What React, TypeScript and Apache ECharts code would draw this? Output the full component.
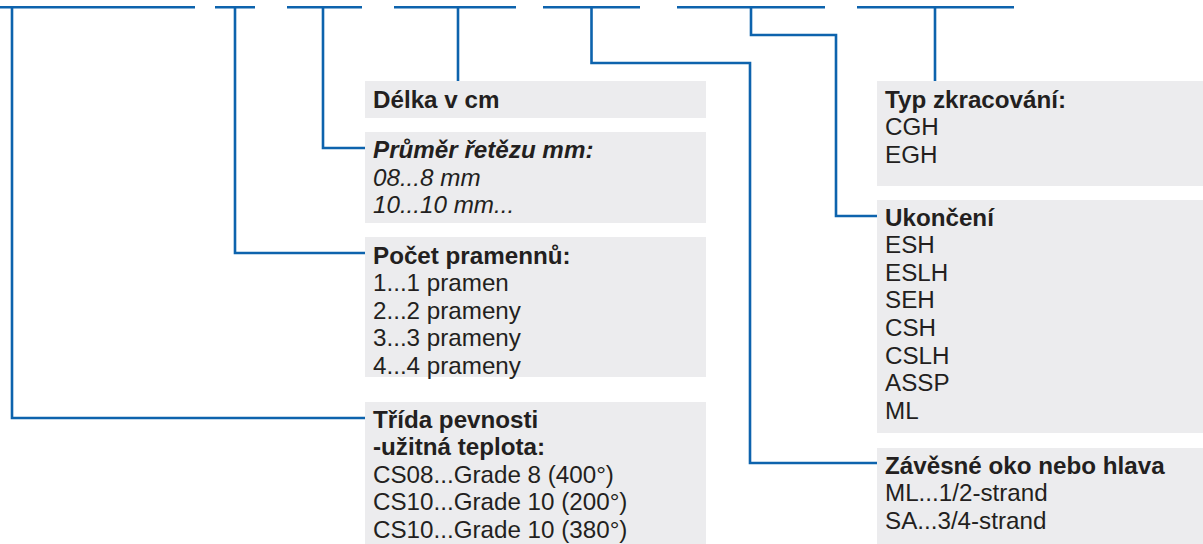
import React, { useEffect, useRef } from 'react';
import * as echarts from 'echarts';

const W = 1203;
const H = 544;
const BLUE = '#0d63ad';
const BOX = '#ececee';
const INK = '#231f20';
const FONT = '"Liberation Sans", Arial, Helvetica, sans-serif';
const FS = 24.2;
const LH = 27.6;

// Box contents
const delkaLines = ['Délka v cm'];
const prumerLines = ['Průměr řetězu mm:', '08...8 mm', '10...10 mm...'];
const pocetLines = ['Počet pramennů:', '1...1 pramen', '2...2 prameny', '3...3 prameny', '4...4 prameny'];
const tridaLines = ['Třída pevnosti', '-užitná teplota:', 'CS08...Grade 8 (400°)', 'CS10...Grade 10 (200°)', 'CS10...Grade 10 (380°)'];
const typLines = ['Typ zkracování:', 'CGH', 'EGH'];
const ukonceniLines = ['Ukončení', 'ESH', 'ESLH', 'SEH', 'CSH', 'CSLH', 'ASSP', 'ML'];
const zavesneLines = ['Závěsné oko nebo hlava', 'ML...1/2-strand', 'SA...3/4-strand'];

// Layout of boxes
const boxes = [
  { lines: delkaLines, x: 365, y: 81, w: 341, h: 37, ty: 99.5, bold: 1, italic: false },
  { lines: prumerLines, x: 365, y: 132, w: 341, h: 91, ty: 149.5, bold: 1, italic: true },
  { lines: pocetLines, x: 365, y: 237, w: 341, h: 140, ty: 255, bold: 1, italic: false },
  { lines: tridaLines, x: 365, y: 402, w: 341, h: 142, ty: 419, bold: 2, italic: false },
  { lines: typLines, x: 877, y: 81, w: 326, h: 105, ty: 99, bold: 1, italic: false },
  { lines: ukonceniLines, x: 877, y: 200, w: 326, h: 233, ty: 217, bold: 1, italic: false },
  { lines: zavesneLines, x: 877, y: 448, w: 326, h: 96, ty: 465, bold: 1, italic: false },
];

// Top code segments
const topSegments = [
  [0, 195], [215, 255], [287, 362], [394, 516], [543, 640], [677, 825], [857, 1014],
];
const TOP_Y = 7.3;

// Leader lines
const leaders = [
  [[12, TOP_Y], [12, 418], [365, 418]],
  [[235, TOP_Y], [235, 253], [365, 253]],
  [[323, TOP_Y], [323, 148], [365, 148]],
  [[458, TOP_Y], [458, 81]],
  [[591.5, TOP_Y], [591.5, 63], [750, 63], [750, 463], [877, 463]],
  [[751, TOP_Y], [751, 35], [836, 35], [836, 216], [877, 216]],
  [[935, TOP_Y], [935, 81]],
];

export default function App() {
  const ref = useRef<HTMLDivElement>(null);
  useEffect(() => {
    if (!ref.current) return;
    const chart = echarts.init(ref.current, null, { renderer: 'svg', width: W, height: H });
    const elements: any[] = [];
    topSegments.forEach(([a, b]) => {
      elements.push({
        type: 'line',
        shape: { x1: a, y1: TOP_Y, x2: b, y2: TOP_Y },
        style: { stroke: BLUE, lineWidth: 2.6 },
      });
    });
    leaders.forEach((pts) => {
      elements.push({
        type: 'polyline',
        shape: { points: pts },
        style: { stroke: BLUE, lineWidth: 2.6, fill: null, lineJoin: 'miter' },
      });
    });
    boxes.forEach((b) => {
      elements.push({
        type: 'rect',
        shape: { x: b.x, y: b.y, width: b.w, height: b.h },
        style: { fill: BOX },
      });
      b.lines.forEach((t, i) => {
        elements.push({
          type: 'text',
          x: b.x + 8,
          y: b.ty + i * LH,
          style: {
            text: t,
            fill: INK,
            fontSize: FS,
            fontFamily: FONT,
            fontWeight: i < b.bold ? 'bold' : 'normal',
            fontStyle: b.italic ? 'italic' : 'normal',
            textAlign: 'left',
            textVerticalAlign: 'middle',
            align: 'left',
            verticalAlign: 'middle',
          },
        });
      });
    });
    chart.setOption({
      animation: false,
      backgroundColor: '#ffffff',
      graphic: { elements },
    });
    return () => chart.dispose();
  }, []);
  return (
    <div
      ref={ref}
      style={{ position: 'absolute', left: 0, top: 0, width: W, height: H, background: '#fff' }}
    />
  );
}
